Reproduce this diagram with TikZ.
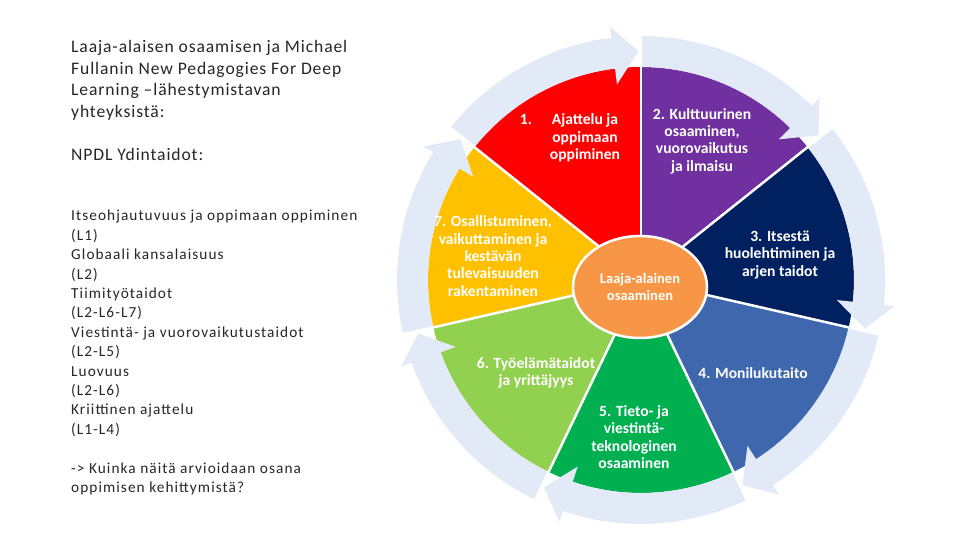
\documentclass[tikz,border=0pt]{standalone}
\usepackage{fontspec}
\setmainfont{Carlito}
\usetikzlibrary{shapes.geometric,positioning}
\definecolor{segred}{RGB}{255,0,0}
\definecolor{segpurple}{RGB}{112,48,160}
\definecolor{segnavy}{RGB}{0,32,96}
\definecolor{segblue}{RGB}{63,103,174}
\definecolor{seggreen}{RGB}{0,176,80}
\definecolor{seglime}{RGB}{146,208,80}
\definecolor{segyellow}{RGB}{255,192,0}
\definecolor{hubcol}{RGB}{247,150,70}
\definecolor{ringblue}{RGB}{226,234,248}
\definecolor{bodycol}{RGB}{38,38,38}
\begin{document}
\begin{tikzpicture}[x=1pt,y=1pt,
	seglabel/.style={text=white,font=\fontsize{15.6}{17.3}\selectfont\bfseries,align=center,inner sep=0pt},
	bodytext/.style={anchor=north west,align=left,inner sep=0pt,text=bodycol}]
		\useasboundingbox (0,0) rectangle (960,540);
		\begin{scope}[shift={(641,260)}]
		\foreach \col [count=\k] in {segred,segpurple,segnavy,segblue,seggreen,seglime,segyellow}{
			\pgfmathsetmacro\s{141.4286-51.4286*(\k-1)}
			\pgfmathsetmacro\e{\s-51.4286}
			\fill[\col] (0,0) -- (\s:213) arc[start angle=\s,end angle=\e,radius=213] -- cycle;
			\fill[ringblue] (\s:244) arc[start angle=\s,end angle=\e+7,radius=244] -- (\e+7:255) -- (\e+0.6:229)
				-- (\e+7:197) -- (\e+7:213) arc[start angle=\e+7,end angle=\s,radius=213] -- cycle;
		}
		\foreach \k in {0,...,6}
			\draw[white,line width=2.5pt] (0,0) -- (90-51.4286*\k:258);
		\end{scope}
		\node[ellipse,fill=hubcol,draw=white,line width=2.5pt,minimum width=134pt,minimum height=102pt,
			text=white,font=\fontsize{14.5}{17.3}\selectfont\bfseries,align=center](hub) at (640,253) {Laaja-alainen\\osaaminen};
		\node[seglabel](ajattelu) at (585,402) {Ajattelu ja\\oppimaan\\oppiminen};
		\node[seglabel,anchor=base](num1) at (526,415.5) {1.};
		\node[seglabel](kulttuuri) at (702,399) {2. Kulttuurinen\\osaaminen,\\vuorovaikutus\\ja ilmaisu};
		\node[seglabel](itsesta) at (780,285) {3. Itsestä\\huolehtiminen ja\\arjen taidot};
		\node[seglabel](moniluku) at (753,167) {4. Monilukutaito};
		\node[seglabel](tvt) at (634,103) {5. Tieto- ja\\viestintä-\\teknologinen\\osaaminen};
		\node[seglabel](tyoelama) at (536,167) {6. Työelämätaidot\\ja yrittäjyys};
		\node[seglabel](osallistuminen) at (493,284) {7. Osallistuminen,\\vaikuttaminen ja\\kestävän\\tulevaisuuden\\rakentaminen};
		\node[bodytext,font=\fontsize{17.6}{21.5}\selectfont\addfontfeature{LetterSpace=5}](intro) at (71,499.5)
			{Laaja-alaisen osaamisen ja Michael\\Fullanin New Pedagogies For Deep\\Learning –lähestymistavan\\yhteyksistä:\\[21.5pt]NPDL Ydintaidot:};
		\node[bodytext,font=\fontsize{15.3}{19.4}\selectfont\addfontfeature{LetterSpace=7}](taidot) at (71,330)
			{Itseohjautuvuus ja oppimaan oppiminen\\(L1)\\Globaali kansalaisuus\\(L2)\\Tiimityötaidot\\(L2-L6-L7)\\Viestintä- ja vuorovaikutustaidot\\(L2-L5)\\Luovuus\\(L2-L6)\\Kriittinen ajattelu\\(L1-L4)\\[19.4pt]-> Kuinka näitä arvioidaan osana\\oppimisen kehittymistä?};
\end{tikzpicture}
\end{document}
